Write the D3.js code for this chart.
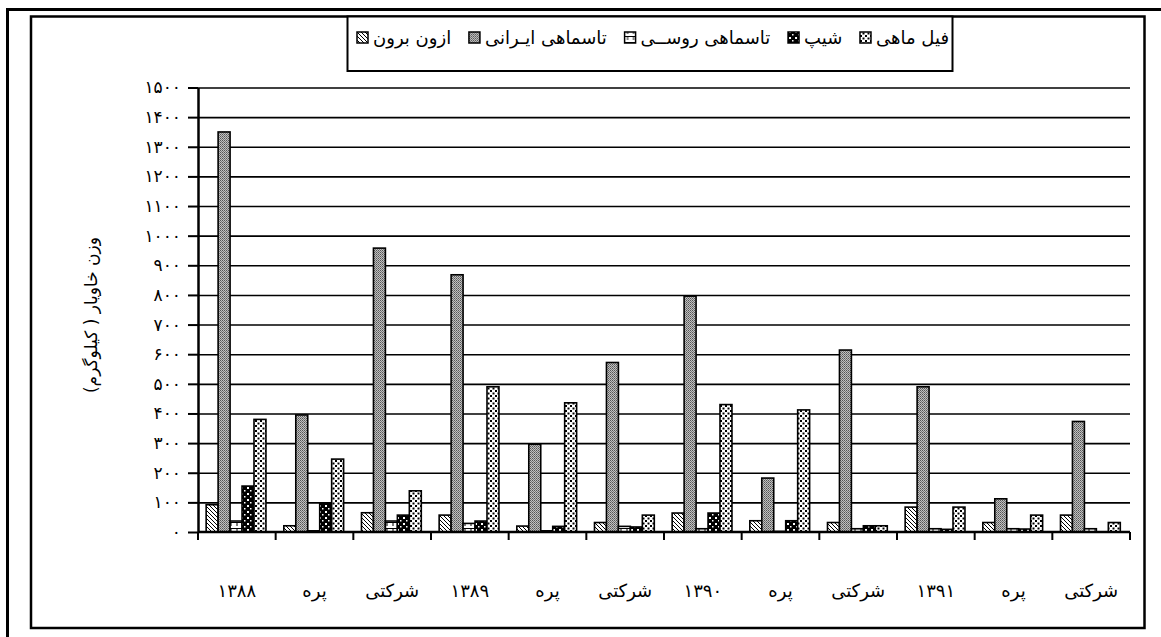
<!DOCTYPE html>
<html>
<head>
<meta charset="utf-8">
<script src="https://cdn.jsdelivr.net/npm/d3@7"></script>
<style>
  body { margin: 0; background: #fff; }
  text { font-family: "DejaVu Sans", sans-serif; fill: #000; }
</style>
</head>
<body>
<div id="chart"></div>
<script>
// categories along the x axis (left to right)
const categories = ["۱۳۸۸", "پره", "شرکتی", "۱۳۸۹", "پره", "شرکتی", "۱۳۹۰", "پره", "شرکتی", "۱۳۹۱", "پره", "شرکتی"]

// series names (legend) and values in kg
const seriesNames = ["ازون برون", "تاسماهی ایـرانی", "تاسماهی روســی", "شیپ", "فیل ماهی"]
const ozonBroon = [92, 21, 65, 57, 20, 32, 64, 38, 32, 84, 32, 57]
const iranian = [1350, 395, 958, 868, 296, 572, 796, 182, 614, 490, 112, 373]
const russian = [37, 4, 37, 29, 4, 19, 11, 2, 11, 11, 11, 11]
const ship = [155, 96, 57, 37, 19, 17, 64, 38, 21, 9, 10, 0]
const beluga = [380, 246, 139, 490, 436, 57, 430, 412, 21, 84, 57, 32]
const seriesValues = [ozonBroon, iranian, russian, ship, beluga]

const yTicks = [0, 100, 200, 300, 400, 500, 600, 700, 800, 900, 1000, 1100, 1200, 1300, 1400, 1500]
const yTitle = "وزن خاویار ( کیلوگرم)"

const W = 1161
const H = 637
const PLOT = { LEFT: 198, RIGHT: 1130, TOP: 87.5, BOTTOM: 532 }

const toFa = n => String(n).replace(/\d/g, c => "۰۱۲۳۴۵۶۷۸۹"[c])

const svg = d3.select("#chart")
              .append("svg")
              .attr("width", W)
              .attr("height", H)

// ---- fill patterns (black & white print look)
const defs = svg.append("defs")

const pHatch = defs.append("pattern").attr("id", "p0")
                   .attr("patternUnits", "userSpaceOnUse").attr("width", 4).attr("height", 4)
pHatch.append("rect").attr("width", 4).attr("height", 4).attr("fill", "#fff")
pHatch.append("path").attr("d", "M-1,-1 L5,5 M-1,3 L1,5 M3,-1 L5,1")
      .attr("stroke", "#000").attr("stroke-width", 1)

const pGray = defs.append("pattern").attr("id", "p1")
                  .attr("patternUnits", "userSpaceOnUse").attr("width", 2).attr("height", 2)
pGray.append("rect").attr("width", 2).attr("height", 2).attr("fill", "#c0c0c0")
pGray.append("rect").attr("width", 1).attr("height", 1).attr("fill", "#555")
pGray.append("rect").attr("x", 1).attr("y", 1).attr("width", 1).attr("height", 1).attr("fill", "#777")

const pBrick = defs.append("pattern").attr("id", "p2")
                   .attr("patternUnits", "userSpaceOnUse").attr("width", 6).attr("height", 6)
pBrick.append("rect").attr("width", 6).attr("height", 6).attr("fill", "#fff")
pBrick.append("path").attr("d", "M0,0.5 H6 M3,0 V4")
      .attr("stroke", "#000").attr("stroke-width", 1)

const pCheck = defs.append("pattern").attr("id", "p3")
                   .attr("patternUnits", "userSpaceOnUse").attr("width", 6).attr("height", 6)
pCheck.append("rect").attr("width", 6).attr("height", 6).attr("fill", "#000")
pCheck.append("rect").attr("x", 1).attr("y", 1).attr("width", 2).attr("height", 2).attr("fill", "#fff")
pCheck.append("rect").attr("x", 4).attr("y", 4).attr("width", 1.5).attr("height", 1.5).attr("fill", "#fff")

const pDots = defs.append("pattern").attr("id", "p4")
                  .attr("patternUnits", "userSpaceOnUse").attr("width", 5).attr("height", 5)
pDots.append("rect").attr("width", 5).attr("height", 5).attr("fill", "#fff")
pDots.append("rect").attr("x", 0).attr("y", 0).attr("width", 2).attr("height", 2).attr("fill", "#000")
pDots.append("rect").attr("x", 2.5).attr("y", 2.5).attr("width", 2).attr("height", 2).attr("fill", "#000")

// ---- frames
svg.append("path")
   .attr("d", "M7.5,637 V9.5 H1161")
   .attr("fill", "none").attr("stroke", "#000").attr("stroke-width", 3)

svg.append("rect")
   .attr("x", 31).attr("y", 16.5)
   .attr("width", 1144.5 - 31).attr("height", 628 - 16.5)
   .attr("fill", "none").attr("stroke", "#000").attr("stroke-width", 2.5)

// ---- scales
const x0 = d3.scaleBand()
             .domain(d3.range(categories.length))
             .range([PLOT.LEFT, PLOT.RIGHT])

const bw = x0.bandwidth()
const x1 = d3.scaleBand()
             .domain(d3.range(seriesNames.length))
             .range([bw * 0.105, bw * 0.875])

const y = d3.scaleLinear()
            .domain([0, 1500])
            .range([PLOT.BOTTOM, PLOT.TOP])

// gridlines
svg.append("g")
   .attr("transform", `translate(${PLOT.LEFT}, 0)`)
   .call(d3.axisLeft(y).tickValues(yTicks.slice(1)).tickSize(-(PLOT.RIGHT - PLOT.LEFT)).tickFormat(""))
   .call(g => g.select(".domain").remove())
   .call(g => g.selectAll("line").attr("stroke", "#000").attr("stroke-width", 1.6))

// bars
const groups = svg.append("g")
                  .selectAll("g")
                  .data(seriesValues)
                  .join("g")
                  .attr("fill", (d, i) => `url(#p${i})`)

groups.selectAll("rect")
      .data((vals, s) => vals.map((v, c) => ({ v, c, s })))
      .join("rect")
      .attr("x", d => x0(d.c) + x1(d.s))
      .attr("y", d => y(d.v))
      .attr("width", x1.bandwidth())
      .attr("height", d => y(0) - y(d.v))
      .attr("stroke", "#000")
      .attr("stroke-width", 1.6)

// y axis
const yAxisGroup = svg.append("g")
   .attr("transform", `translate(${PLOT.LEFT}, 0)`)
   .call(d3.axisLeft(y).tickValues(yTicks).tickSize(10).tickSizeOuter(0).tickPadding(7).tickFormat(toFa))
yAxisGroup.select(".domain").attr("stroke-width", 2.5)
yAxisGroup.selectAll("line").attr("stroke-width", 2)
yAxisGroup.selectAll("text").attr("font-size", 17).attr("font-family", "DejaVu Sans")

// x axis line and boundary ticks
svg.append("line")
   .attr("x1", PLOT.LEFT).attr("x2", PLOT.RIGHT)
   .attr("y1", y(0)).attr("y2", y(0))
   .attr("stroke", "#000").attr("stroke-width", 2.5)

svg.append("g")
   .selectAll("line")
   .data(d3.range(categories.length + 1))
   .join("line")
   .attr("x1", i => i < categories.length ? x0(i) : x0(i - 1) + bw)
   .attr("x2", i => i < categories.length ? x0(i) : x0(i - 1) + bw)
   .attr("y1", y(0)).attr("y2", y(0) + 8)
   .attr("stroke", "#000").attr("stroke-width", 2)

// x labels
svg.append("g")
   .selectAll("text")
   .data(categories)
   .join("text")
   .attr("x", (d, i) => x0(i) + bw / 2)
   .attr("y", 597)
   .attr("text-anchor", "middle")
   .attr("font-size", 18)
   .text(d => d)

// y title
svg.append("text")
   .attr("transform", `translate(97, 315) rotate(-90)`)
   .attr("text-anchor", "middle")
   .attr("font-size", 17)
   .text(yTitle)

// ---- legend
svg.append("rect")
   .attr("x", 347.5).attr("y", 16.5)
   .attr("width", 952.5 - 347.5).attr("height", 71 - 16.5)
   .attr("fill", "#fff").attr("stroke", "#000").attr("stroke-width", 2)

const legendItems = svg.append("g")
                       .selectAll("g")
                       .data(seriesNames)
                       .join("g")

legendItems.append("rect")
           .attr("y", 32).attr("width", 11).attr("height", 11)
           .attr("fill", (d, i) => `url(#p${i})`)
           .attr("stroke", "#000").attr("stroke-width", 1.5)

legendItems.append("text")
           .attr("x", 16).attr("y", 44)
           .attr("font-size", 18)
           .text(d => d)

// spread the items between the left and right of the box
const widths = []
legendItems.select("text").each(function () { widths.push(16 + this.getComputedTextLength()) })
const LEG_START = 357
const LEG_END = 949
const gap = (LEG_END - LEG_START - d3.sum(widths)) / (widths.length - 1)
let cursor = LEG_START
legendItems.attr("transform", (d, i) => {
  const t = `translate(${cursor}, 0)`
  cursor += widths[i] + gap
  return t
})
</script>
</body>
</html>
